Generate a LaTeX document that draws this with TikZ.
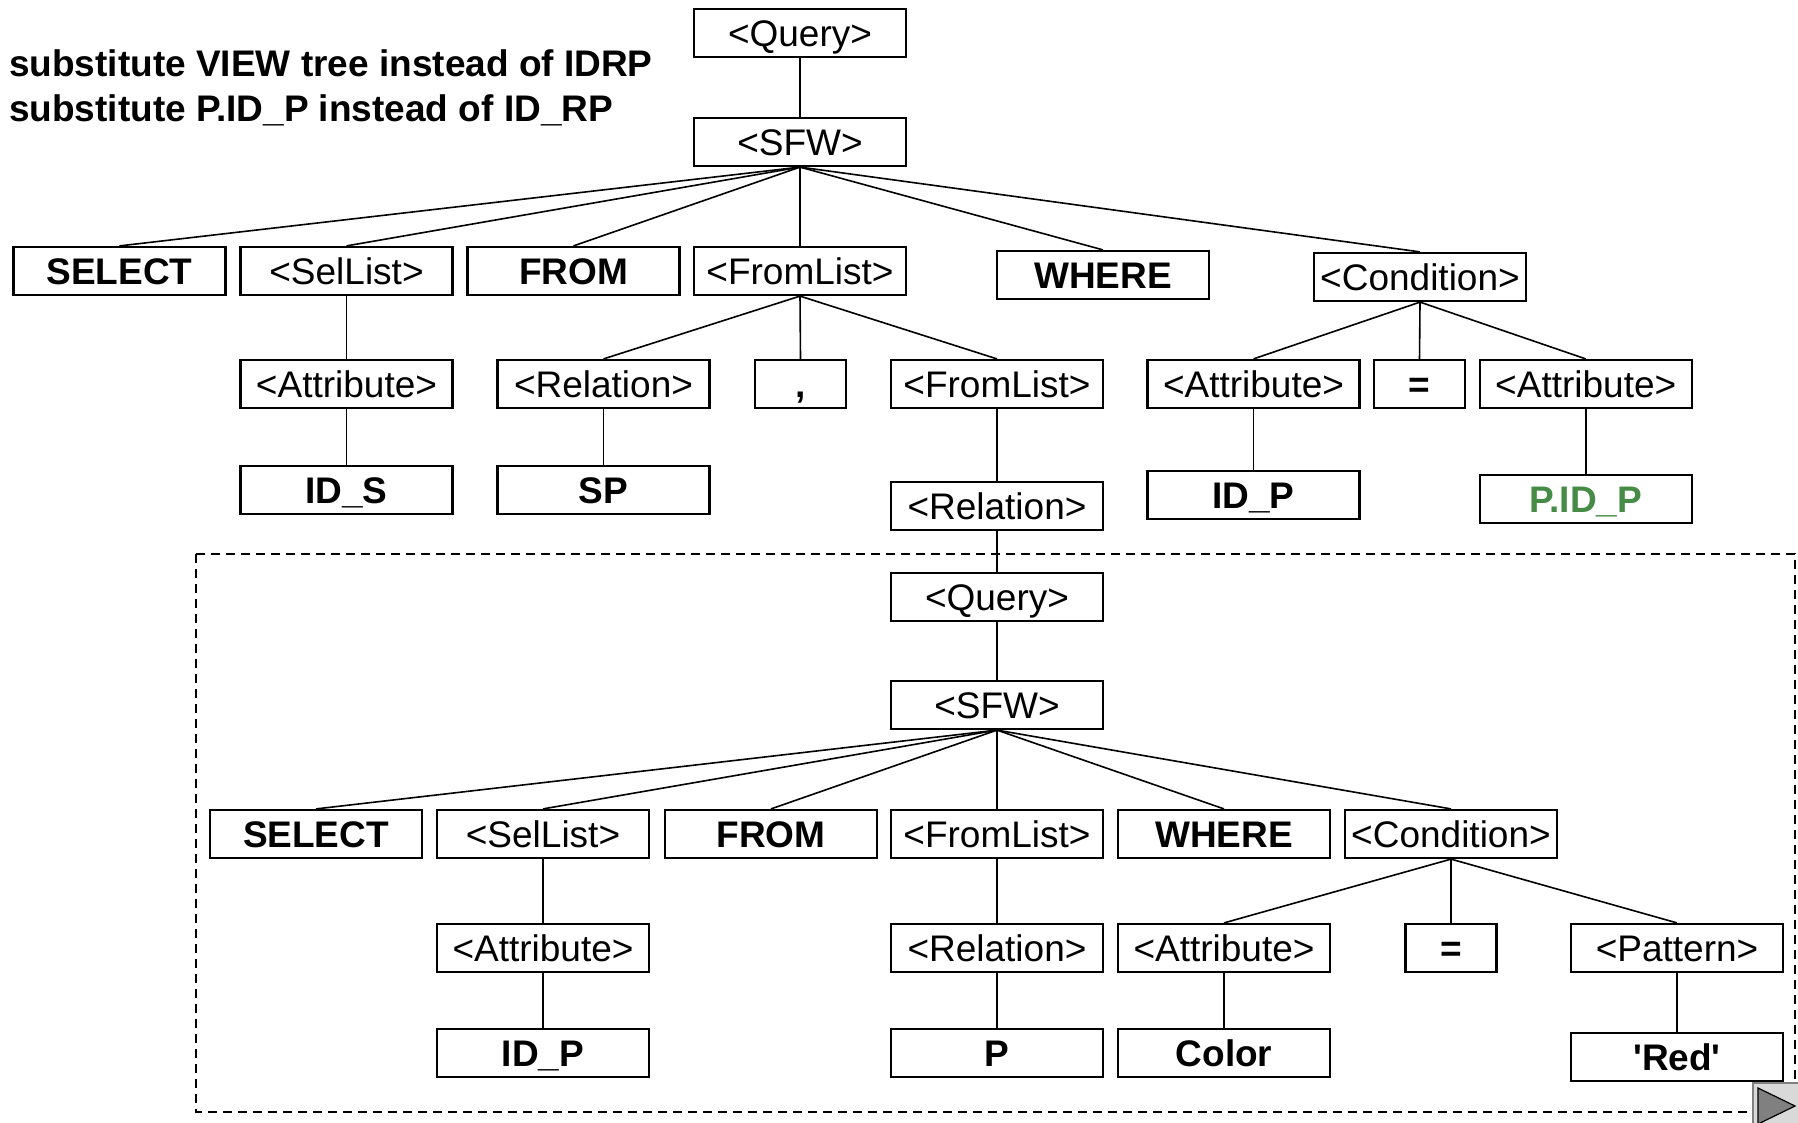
\documentclass[tikz,border=0pt]{standalone}
\usepackage{fontspec}
\setmainfont{Liberation Sans}[Ligatures=TeXOff]
\definecolor{idgreen}{RGB}{70,140,70}
\definecolor{btnbg}{RGB}{217,217,217}
\definecolor{btntri}{RGB}{128,128,128}
\tikzset{
  tbox/.style={draw=black, line width=2.2pt, minimum width=212pt, minimum height=48pt,
    inner sep=0pt, text height=26.5pt, text depth=0pt,
    font=\fontsize{37}{44}\selectfont},
  kbox/.style={tbox, font=\fontsize{37}{44}\selectfont\bfseries},
  sbox/.style={kbox, minimum width=91pt},
  edge/.style={line width=1.6pt},
}
\begin{document}
\begin{tikzpicture}[x=1pt, y=-1pt]
\useasboundingbox (0,0) rectangle (1798,1122);
% caption
\node[anchor=west, inner sep=0pt, font=\fontsize{37}{44}\selectfont\bfseries, text height=26.5pt, text depth=0pt] (cap1) at (9,63) {substitute VIEW tree instead of IDRP};
\node[anchor=west, inner sep=0pt, font=\fontsize{37}{44}\selectfont\bfseries, text height=26.5pt, text depth=0pt] (cap2) at (9,108) {substitute P.ID\_P instead of ID\_RP};
% dashed frame
\draw[dashed, line width=1.3pt, dash pattern=on 9pt off 6pt] (196,554) rectangle (1795,1112);
% top tree
\node[tbox] (q) at (800,33) {<Query>};
\node[tbox] (sfw) at (800,142) {<SFW>};
\node[kbox] (sel) at (119.5,271) {SELECT};
\node[tbox] (sl) at (346.5,271) {<SelList>};
\node[kbox] (from) at (573.5,271) {FROM};
\node[tbox] (fl) at (800,271) {<FromList>};
\node[kbox] (where) at (1103,275) {WHERE};
\node[tbox] (cond) at (1420,277) {<Condition>};
\node[tbox] (att1) at (346.5,384) {<Attribute>};
\node[tbox] (rel1) at (603.5,384) {<Relation>};
\node[sbox] (comma) at (800.5,384) {,};
\node[tbox] (fl2) at (997,384) {<FromList>};
\node[tbox] (att2) at (1253.5,384) {<Attribute>};
\node[sbox] (eq1) at (1419.5,384) {=};
\node[tbox] (att3) at (1585.7,384) {<Attribute>};
\node[kbox] (ids) at (346.5,490) {ID\_S};
\node[kbox] (sp) at (603.5,490) {SP};
\node[tbox] (rel2) at (997,506) {<Relation>};
\node[kbox] (idp1) at (1253.5,495) {ID\_P};
\node[kbox, text=idgreen] (pidp) at (1585.7,499) {P.ID\_P};
% inner tree
\node[tbox] (iq) at (997,597) {<Query>};
\node[tbox] (isfw) at (997,705) {<SFW>};
\node[kbox] (isel) at (316,834) {SELECT};
\node[tbox] (isl) at (543,834) {<SelList>};
\node[kbox] (ifrom) at (771,834) {FROM};
\node[tbox] (ifl) at (997,834) {<FromList>};
\node[kbox] (iwhere) at (1224,834) {WHERE};
\node[tbox] (icond) at (1451,834) {<Condition>};
\node[tbox] (iatt) at (543,948) {<Attribute>};
\node[tbox] (irel) at (997,948) {<Relation>};
\node[tbox] (iatt2) at (1224,948) {<Attribute>};
\node[sbox] (ieq) at (1451,948) {=};
\node[tbox] (ipat) at (1677,948) {<Pattern>};
\node[kbox] (iidp) at (543,1053) {ID\_P};
\node[kbox] (ip) at (997,1053) {P};
\node[kbox] (icolor) at (1224,1053) {Color};
\node[kbox] (ired) at (1677,1057) {'Red'};
% connectors top
\draw[edge] (q.south) -- (sfw.north);
\foreach \c in {sel,sl,from,fl,where,cond} \draw[edge] (sfw.south) -- (\c.north);
\draw[edge] (sl.south) -- (att1.north);
\draw[edge] (att1.south) -- (ids.north);
\foreach \c in {rel1,comma,fl2} \draw[edge] (fl.south) -- (\c.north);
\draw[edge] (rel1.south) -- (sp.north);
\draw[edge] (fl2.south) -- (rel2.north);
\foreach \c in {att2,eq1,att3} \draw[edge] (cond.south) -- (\c.north);
\draw[edge] (att2.south) -- (idp1.north);
\draw[edge] (att3.south) -- (pidp.north);
\draw[edge] (rel2.south) -- (iq.north);
% connectors inner
\draw[edge] (iq.south) -- (isfw.north);
\foreach \c in {isel,isl,ifrom,ifl,iwhere,icond} \draw[edge] (isfw.south) -- (\c.north);
\draw[edge] (isl.south) -- (iatt.north);
\draw[edge] (iatt.south) -- (iidp.north);
\draw[edge] (ifl.south) -- (irel.north);
\draw[edge] (irel.south) -- (ip.north);
\foreach \c in {iatt2,ieq,ipat} \draw[edge] (icond.south) -- (\c.north);
\draw[edge] (iatt2.south) -- (icolor.north);
\draw[edge] (ipat.south) -- (ired.north);
% navigation button
\draw[draw=btntri, fill=btnbg, line width=1.2pt] (1753,1083) rectangle (1800,1124);
\draw[fill=btntri, draw=black, line width=1.2pt] (1758,1088) -- (1795,1106) -- (1758,1124) -- cycle;
\end{tikzpicture}
\end{document}
